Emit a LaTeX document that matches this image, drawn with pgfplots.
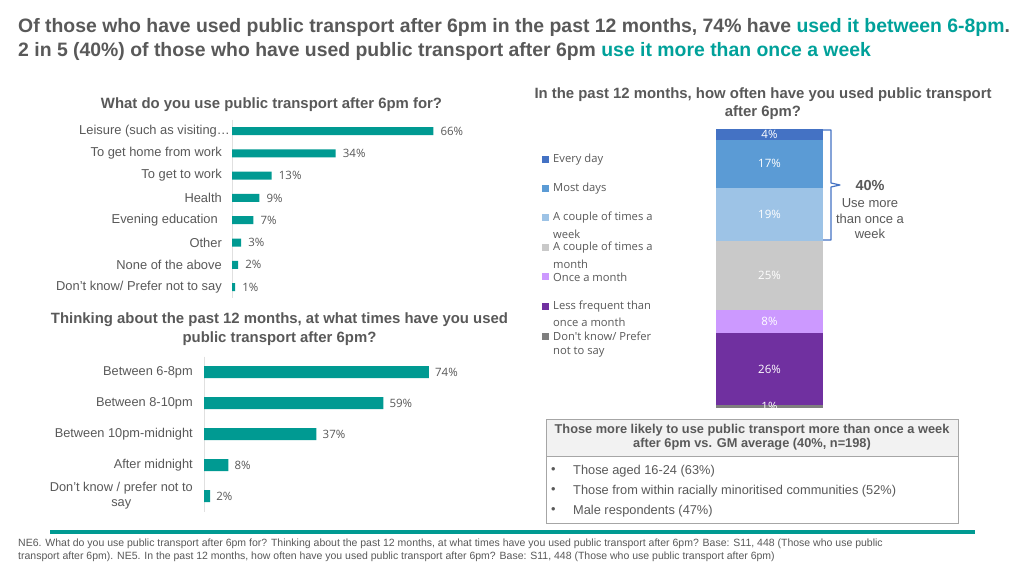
\documentclass[border=0pt]{standalone}
\usepackage{pgfplots}
\pgfplotsset{compat=1.18}
\usepackage{fontspec}
\setmainfont{Liberation Sans}
\newfontfamily\os{Open Sans}
\definecolor{txt}{HTML}{595959}
\definecolor{tealbar}{HTML}{009A92}
\definecolor{tealtxt}{HTML}{00A19A}
\definecolor{c1}{HTML}{4472C4}
\definecolor{c2}{HTML}{5B9BD5}
\definecolor{c3}{HTML}{9DC3E6}
\definecolor{c4}{HTML}{C9C9C9}
\definecolor{c5}{HTML}{CC99FF}
\definecolor{c6}{HTML}{7030A0}
\definecolor{c7}{HTML}{7F7F7F}
\pgfplotsset{/pgf/number format/assume math mode=true}
\begin{document}
\begin{tikzpicture}[x=1pt,y=1pt]
\path[use as bounding box,fill=white] (0,0) rectangle (1024,576);
\coordinate (A1) at (232,277.75);
\coordinate (A2) at (204,64.5);
\coordinate (A3) at (716,168);
% main title
\node[anchor=base west,inner sep=0,font=\fontsize{19.4}{22}\selectfont\bfseries,text=txt] at (18,543) {Of those who have used public transport after 6pm in the past 12 months, 74\% have \textcolor{tealtxt}{used it between 6-8pm}.};
\node[anchor=base west,inner sep=0,font=\fontsize{19.4}{22}\selectfont\bfseries,text=txt] at (18,519) {2 in 5 (40\%) of those who have used public transport after 6pm \textcolor{tealtxt}{use it more than once a week}};
% chart titles
\node[font=\fontsize{14.9}{17}\selectfont\bfseries,text=txt] at (271.5,471) {What do you use public transport after 6pm for?};
\node[font=\fontsize{14.9}{17}\selectfont\bfseries,text=txt] at (279.5,256) {Thinking about the past 12 months, at what times have you used};
\node[font=\fontsize{14.9}{17}\selectfont\bfseries,text=txt] at (279.5,237) {public transport after 6pm?};
\node[font=\fontsize{14.9}{17}\selectfont\bfseries,text=txt] at (763,481) {In the past 12 months, how often have you used public transport};
\node[font=\fontsize{14.9}{17}\selectfont\bfseries,text=txt] at (763,463) {after 6pm?};
% chart 1
\begin{axis}[at={(A1)},anchor=south west,scale only axis,width=305pt,height=178.4pt,
  xbar,bar width=8pt,xmin=0,xmax=100,ymin=-0.5,ymax=7.5,y dir=reverse,
  ytick={0,...,7},
  yticklabels={Leisure (such as visiting\ldots\kern-8pt,To get home from work,To get to work,Health,Evening education\kern4pt,Other,None of the above,Don't know/ Prefer not to say},
  axis x line=none,axis y line=left,y axis line style={draw=black!12,-},
  major tick length=0pt,ytick style={draw=none},
  yticklabel style={font=\fontsize{12.9}{15}\selectfont,text=txt,inner sep=0pt,xshift=-10pt},
  point meta=x,nodes near coords={\pgfmathprintnumber{\pgfplotspointmeta}\%},
  every node near coord/.append style={font=\os\fontsize{11.5}{13}\selectfont,text=txt,anchor=west,inner sep=0pt,xshift=7pt},
  clip=false]
\addplot[fill=tealbar,draw=none] coordinates {(66,0) (34,1) (13,2) (9,3) (7,4) (3,5) (2,6) (1,7)};
\end{axis}
% chart 2
\begin{axis}[at={(A2)},anchor=south west,scale only axis,width=304pt,height=155pt,
  xbar,bar width=12pt,xmin=0,xmax=100,ymin=-0.5,ymax=4.5,y dir=reverse,
  ytick={0,...,4},
  yticklabels={Between 6-8pm,Between 8-10pm,Between 10pm-midnight,After midnight,Don't know / prefer not to\\say},
  axis x line=none,axis y line=left,y axis line style={draw=black!12,-},
  major tick length=0pt,ytick style={draw=none},
  yticklabel style={font=\fontsize{12.8}{15}\selectfont,text=txt,inner sep=0pt,xshift=-11pt,align=center},
  point meta=x,nodes near coords={\pgfmathprintnumber{\pgfplotspointmeta}\%},
  every node near coord/.append style={font=\os\fontsize{11.5}{13}\selectfont,text=txt,anchor=west,inner sep=0pt,xshift=6pt},
  clip=false]
\addplot[fill=tealbar,draw=none] coordinates {(74,0) (59,1) (37,2) (8,3) (2,4)};
\end{axis}
% chart 3 stacked
\begin{axis}[at={(A3)},anchor=south west,scale only axis,width=107pt,height=279pt,
  ybar stacked,bar width=107pt,xmin=-0.5,xmax=0.5,ymin=0,ymax=100,axis lines=none,clip=false,
  point meta=explicit,nodes near coords={\pgfmathprintnumber{\pgfplotspointmeta}\%},
  every node near coord/.append style={font=\os\fontsize{11.5}{13}\selectfont,text=white,anchor=center,inner sep=0pt}]
\addplot[fill=c7,draw=none] coordinates {(0,1) [1]};
\addplot[fill=c6,draw=none] coordinates {(0,26) [26]};
\addplot[fill=c5,draw=none] coordinates {(0,8) [8]};
\addplot[fill=c4,draw=none] coordinates {(0,25) [25]};
\addplot[fill=c3,draw=none] coordinates {(0,19) [19]};
\addplot[fill=c2,draw=none] coordinates {(0,17) [17]};
\addplot[fill=c1,draw=none] coordinates {(0,4) [4]};
\end{axis}
% legend for chart 3
\begin{scope}[every node/.style={font=\os\fontsize{11.2}{13}\selectfont,text=txt,anchor=west,inner sep=0pt}]
\fill[c1] (542,412.5) rectangle +(7,7);
\node at (553,416) {Every day};
\fill[c2] (542,383.5) rectangle +(7,7);
\node at (553,387) {Most days};
\fill[c3] (542,354.5) rectangle +(7,7);
\node at (553,358) {A couple of times a};
\node at (553,342) {week};
\fill[c4] (542,324.5) rectangle +(7,7);
\node at (553,328) {A couple of times a};
\node at (553,312) {month};
\fill[c5] (542,295.5) rectangle +(7,7);
\node at (553,299) {Once a month};
\fill[c6] (542,265.5) rectangle +(7,7);
\node at (553,269) {Less frequent than};
\node at (553,254) {once a month};
\fill[c7] (542,236.5) rectangle +(7,7);
\node at (553,240) {Don't know/ Prefer};
\node at (553,224) {not to say};
\end{scope}
% bracket
\draw[c1,line width=1.2pt,line join=round] (823,446) -- (831,446) -- (831,393) -- (840,391) -- (831,389) -- (831,336) -- (823,336);
\node[font=\fontsize{14.5}{16}\selectfont\bfseries,text=txt] at (870,390) {40\%};
\node[font=\fontsize{13}{15}\selectfont,text=txt] at (870,373) {Use more};
\node[font=\fontsize{13}{15}\selectfont,text=txt] at (870,357) {than once a};
\node[font=\fontsize{13}{15}\selectfont,text=txt] at (870,342) {week};
% box
\fill[black!5] (546,157) rectangle (958,120);
\draw[black!35,line width=0.8pt] (546,157) rectangle (958,53);
\draw[black!35,line width=0.6pt] (546,120) -- (958,120);
\node[font=\fontsize{12.8}{14}\selectfont\bfseries,text=txt] at (752,146) {Those more likely to use public transport more than once a week};
\node[font=\fontsize{12.8}{14}\selectfont\bfseries,text=txt] at (752,132) {after 6pm vs. GM average (40\%, n=198)};
\begin{scope}[every node/.style={font=\fontsize{12.8}{14}\selectfont,text=txt,anchor=west,inner sep=0pt}]
\node at (551,105) {\textbullet};
\node at (573,105) {Those aged 16-24 (63\%)};
\node at (551,85) {\textbullet};
\node at (573,85) {Those from within racially minoritised communities (52\%)};
\node at (551,65) {\textbullet};
\node at (573,65) {Male respondents (47\%)};
\end{scope}
% footer
\draw[tealbar,line width=4pt] (50,44) -- (975,44);
\node[anchor=west,inner sep=0,font=\fontsize{10.5}{12}\selectfont,text=txt] at (18,32) {NE6. What do you use public transport after 6pm for? Thinking about the past 12 months, at what times have you used public transport after 6pm? Base: S11, 448 (Those who use public};
\node[anchor=west,inner sep=0,font=\fontsize{10.5}{12}\selectfont,text=txt] at (18,19) {transport after 6pm). NE5. In the past 12 months, how often have you used public transport after 6pm? Base: S11, 448 (Those who use public transport after 6pm)};
\end{tikzpicture}
\end{document}
